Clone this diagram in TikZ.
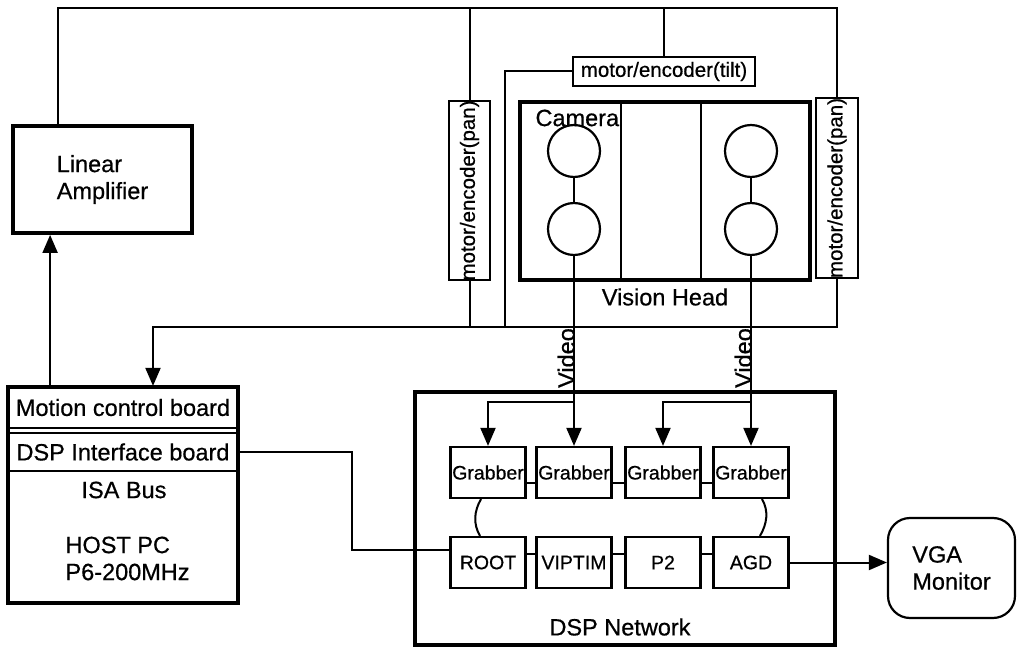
\documentclass[tikz,border=0pt]{standalone}
\usepackage{fontspec}
\setmainfont{Liberation Sans}[FakeBold=0.6]
\usetikzlibrary{arrows.meta,calc}
\begin{document}
\begin{tikzpicture}[x=1pt,y=-1pt,
  ln/.style={line width=2pt},
  box/.style={draw,line width=2.2pt,inner sep=0pt},
  tbox/.style={draw,line width=3.8pt,inner sep=0pt},
  big/.style={font=\fontsize{23.5}{27}\selectfont},
  small/.style={font=\fontsize{19.5}{22}\selectfont},
  mid/.style={font=\fontsize{20.5}{23}\selectfont},
  tri/.style={-{Triangle[length=18pt,width=15pt]}},
]
\useasboundingbox (0,0) rectangle (1018,650);
\coordinate (topy) at (0,8);
\coordinate (busy) at (0,327);
\coordinate (bry) at (0,402);

% Linear amplifier
\node[tbox,minimum width=179,minimum height=107,big,align=left] (linamp) at (102.5,179.5) {Linear\\Amplifier};

% Host PC
\node[tbox,minimum width=230,minimum height=216] (host) at (123,495) {};
\node[box,minimum width=230,minimum height=41,big] (motion) at (123,407.5) {Motion control board};
\node[box,minimum width=230,minimum height=38,big] (dspif) at (123,452) {DSP Interface board};
\node[big] (isa) at (124,490) {ISA Bus};
\node[big,align=left,anchor=west] (hostpc) at (62,558.5) {HOST PC\\P6-200MHz};

% Vision head
\node[tbox,minimum width=290,minimum height=178] (vh) at (665,191) {};
\draw[ln] ($(vh.north west)+(103,0)$) coordinate (d1a) -- ($(vh.south west)+(103,0)$) coordinate (d1b);
\draw[ln] ($(vh.north west)+(183,0)$) coordinate (d2a) -- ($(vh.south west)+(183,0)$) coordinate (d2b);
\node[big,anchor=west] (cam) at (532,118) {Camera};
\node[box,circle,minimum size=52] (c1) at (574,151) {};
\node[box,circle,minimum size=52] (c2) at (574,229) {};
\node[box,circle,minimum size=52] (c3) at (751,151) {};
\node[box,circle,minimum size=52] (c4) at (751,229) {};
\draw[ln] (c1) -- (c2);
\draw[ln] (c3) -- (c4);
\node[big] (vhl) at (665,297) {Vision Head};

% motors
\node[box,minimum width=182,minimum height=29,mid] (tilt) at (664,71.5) {motor/encoder(tilt)};
\node[box,minimum width=41,minimum height=179] (panL) at (469.5,190.5) {};
\node[mid,rotate=90] (panLt) at (panL.center) {motor/encoder(pan)};
\node[box,minimum width=42,minimum height=180] (panR) at (837,188) {};
\node[mid,rotate=90] (panRt) at (panR.center) {motor/encoder(pan)};

% top line
\coordinate (la) at ($(linamp.north west)+(47,0)$);
\draw[ln] (la) -- (la|-topy) -- (panR.north|-topy) -- (panR.north);
\draw[ln] (panL.north) -- (panL.north|-topy);
\draw[ln] (tilt.north) -- (tilt.north|-topy);

% bus to motion board
\coordinate (mcin) at ($(motion.north)+(30,0)$);
\draw[ln,tri] (panR.south) -- (panR.south|-busy) -- (mcin|-busy) -- (mcin);
\draw[ln] (panL.south) -- (panL.south|-busy);
\coordinate (td) at (505,327);
\draw[ln] (tilt.west) -| (td);

% host to linear amp
\draw[ln,tri] ($(host.north west)+(44,0)$) -- ($(linamp.south west)+(39,0)$);

% DSP network
\node[tbox,minimum width=420,minimum height=253] (dsp) at (625,518.5) {};
\node[big] (dspl) at (620,627) {DSP Network};
\node[box,small,minimum width=75,minimum height=51] (g1) at (488,472.5) {Grabber};
\node[box,small,minimum width=75,minimum height=51] (g2) at (574,472.5) {Grabber};
\node[box,small,minimum width=75,minimum height=51] (g3) at (663,472.5) {Grabber};
\node[box,small,minimum width=75,minimum height=51] (g4) at (751,472.5) {Grabber};
\node[box,small,minimum width=75,minimum height=51] (root) at (488,562.5) {ROOT};
\node[box,small,minimum width=75,minimum height=51] (vip) at (574,562.5) {VIPTIM};
\node[box,small,minimum width=75,minimum height=51] (p2) at (663,562.5) {P2};
\node[box,small,minimum width=75,minimum height=51] (agd) at (751,562.5) {AGD};
\draw[ln] ($(g1.east)+(0,10)$) -- ($(g2.west)+(0,10)$);
\draw[ln] ($(g2.east)+(0,10)$) -- ($(g3.west)+(0,10)$);
\draw[ln] ($(g3.east)+(0,10)$) -- ($(g4.west)+(0,10)$);
\draw[ln] ($(root.east)+(0,-9)$) -- ($(vip.west)+(0,-9)$);
\draw[ln] ($(vip.east)+(0,-9)$) -- ($(p2.west)+(0,-9)$);
\draw[ln] ($(p2.east)+(0,-9)$) -- ($(agd.west)+(0,-9)$);
\draw[ln] ($(g1.south)+(-7,0)$) .. controls +(-7,12) and +(-7,-12) .. ($(root.north)+(-8,0)$);
\draw[ln] ($(g4.south)+(11,0)$) .. controls +(7,12) and +(7,-12) .. ($(agd.north)+(9,0)$);

% video
\draw[ln,tri] (c2.south) -- (c2.south|-g2.north);
\draw[ln,tri] (c4.south) -- (c4.south|-g4.north);
\coordinate (bL) at (c2.south|-bry);
\coordinate (bR) at (c4.south|-bry);
\draw[ln,tri] (bL) -| (g1.north);
\draw[ln,tri] (bR) -| (g3.north);
\node[big,rotate=90,inner sep=0pt,anchor=south east] (vidL) at ($(c2.south|-busy)+(1,1)$) {Video};
\node[big,rotate=90,inner sep=0pt,anchor=south east] (vidR) at ($(c4.south|-busy)+(1,1)$) {Video};

% DSP interface to ROOT
\coordinate (dj) at (352,550);
\draw[ln] (dspif.east) -| (dj) -- (dj-|root.west);

% VGA
\node[draw,line width=2.2pt,rounded corners=22pt,minimum width=127,minimum height=100,big,align=left] (vga) at (951.5,568) {VGA\\Monitor};
\draw[ln,tri] (agd.east) -- (agd.east-|vga.west);
\end{tikzpicture}
\end{document}
